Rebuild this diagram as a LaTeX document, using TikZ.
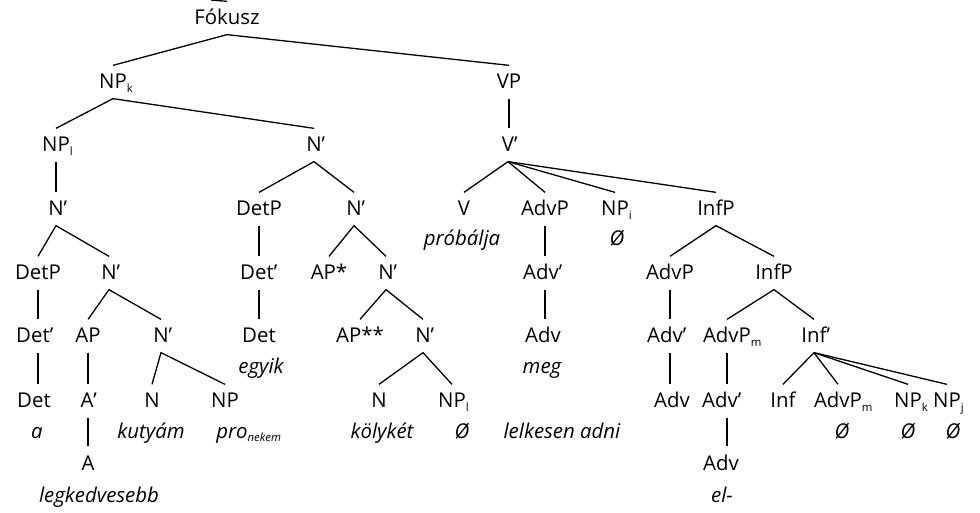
\documentclass[tikz,border=0pt]{standalone}
\usepackage{fontspec}
\setmainfont{Open Sans}
\newcommand\sub[1]{\rlap{\raisebox{-1.6pt}{\fontsize{5.7}{6}\selectfont #1}}}
\newcommand\pr{\rlap{’}}
\begin{document}
\begin{tikzpicture}[x=0.5pt,y=-0.5pt,line width=0.65pt,
  cat/.style={inner xsep=0pt,inner ysep=4.5pt,text height=7pt,text depth=0pt,anchor=base,font=\fontsize{10.2}{12}\selectfont},
  word/.style={cat,font=\fontsize{10.2}{12}\selectfont\itshape}]
\useasboundingbox (0,0) rectangle (980,513);
\node[cat] (fok) at (227,25) {Fókusz};
\node[cat] (npk) at (113,89) {NP\sub{k}};
\node[cat] (vp) at (509,89) {VP};
\node[cat] (npl) at (56,152) {NP\sub{l}};
\node[cat] (nb) at (314,152) {N\pr};
\node[cat] (vb) at (508,152) {V\pr};
\node[cat] (nb1) at (56,216) {N\pr};
\node[cat] (detp2) at (259,216) {DetP};
\node[cat] (nb2) at (354,216) {N\pr};
\node[cat] (v) at (464,216) {V};
\node[cat] (advp1) at (545,216) {AdvP};
\node[cat] (npi) at (615,216) {NP\sub{i}};
\node[cat] (infp1) at (716,216) {InfP};
\node[word] (w-probal) at (462,246) {próbálja};
\node[word] (w-npi) at (617,246) {Ø};
\node[cat] (detp1) at (38,280) {DetP};
\node[cat] (nb3) at (109,280) {N\pr};
\node[cat] (detb2) at (257,280) {Det\pr};
\node[cat] (aps) at (329,280) {AP*};
\node[cat] (nb4) at (386,280) {N\pr};
\node[cat] (advb1) at (541,280) {Adv\pr};
\node[cat] (advp2) at (670,280) {AdvP};
\node[cat] (infp2) at (774,280) {InfP};
\node[cat] (detb1) at (33,343) {Det\pr};
\node[cat] (ap) at (88,343) {AP};
\node[cat] (nb5) at (161,343) {N\pr};
\node[cat] (det2) at (259,343) {Det};
\node[cat] (apss) at (360,343) {AP**};
\node[cat] (nb6) at (423,343) {N\pr};
\node[cat] (adv1) at (543,343) {Adv};
\node[cat] (advb2) at (665,343) {Adv\pr};
\node[cat] (advpm1) at (727,343) {AdvP\sub{m}};
\node[cat] (infb) at (814,343) {Inf\pr};
\node[word] (w-egyik) at (261,373) {egyik};
\node[word] (w-meg) at (542,373) {meg};
\node[cat] (det1) at (34,408) {Det};
\node[cat] (ab) at (87,408) {A\pr};
\node[cat] (n1) at (152,408) {N};
\node[cat] (np1) at (225,408) {NP};
\node[cat] (n2) at (379,408) {N};
\node[cat] (npl2) at (452,408) {NP\sub{l}};
\node[cat] (adv2) at (672,408) {Adv};
\node[cat] (advb3) at (720,408) {Adv\pr};
\node[cat] (inf) at (783,408) {Inf};
\node[cat] (advpm2) at (838,408) {AdvP\sub{m}};
\node[cat] (npk2) at (908,408) {NP\sub{k}};
\node[cat] (npj) at (947,408) {NP\sub{j}};
\node[word] (w-a) at (37,438) {a};
\node[word] (w-kutya) at (151,438) {kutyám};
\node[word] (w-pro) at (232,438) {pro\sub{nekem}};
\node[word] (w-kolyok) at (382,438) {kölykét};
\node[word] (w-npl) at (462,438) {Ø};
\node[word] (w-lelkes) at (562,438) {lelkesen adni};
\node[word] (w-advpm) at (842,438) {Ø};
\node[word] (w-npk) at (908,438) {Ø};
\node[word] (w-npj) at (953,438) {Ø};
\node[cat] (a) at (88,470) {A};
\node[cat] (adv3) at (721,470) {Adv};
\node[word] (w-legk) at (99,502) {legkedvesebb};
\node[word] (w-el) at (722,502) {el-};
\coordinate (up) at (211,0);
\draw (up) -- (fok.north);
\draw (npk.north) -- (fok.south) -- (vp.north);
\draw (npl.north) -- (npk.south) -- (nb.north);
\draw (vp.south) -- (vp.south |- vb.north);
\draw (npl.south) -- (npl.south |- nb1.north);
\draw (detp2.north) -- (nb.south) -- (nb2.north);
\draw (vb.south) -- (v.north);
\draw (vb.south) -- (advp1.north);
\draw (vb.south) -- (npi.north);
\draw (vb.south) -- (infp1.north);
\draw (detp1.north) -- (nb1.south) -- (nb3.north);
\draw (detp2.south) -- (detp2.south |- detb2.north) (detp2.south |- detb2.south) -- (detp2.south |- det2.north);
\draw (aps.north) -- (nb2.south) -- (nb4.north);
\draw (advp1.south) -- (advp1.south |- advb1.north) (advp1.south |- advb1.south) -- (advp1.south |- adv1.north);
\draw (advp2.north) -- (infp1.south) -- (infp2.north);
\draw (detp1.south) -- (detp1.south |- detb1.north) (detp1.south |- detb1.south) -- (detp1.south |- det1.north);
\draw (ap.north) -- (nb3.south) -- (nb5.north);
\draw (ap.south) -- (ap.south |- ab.north) (ap.south |- ab.south) -- (ap.south |- a.north);
\draw (apss.north) -- (nb4.south) -- (nb6.north);
\draw (advp2.south) -- (advp2.south |- advb2.north) (advp2.south |- advb2.south) -- (advp2.south |- adv2.north);
\draw (advpm1.north) -- (infp2.south) -- (infb.north);
\draw (n1.north) -- (nb5.south) -- (np1.north);
\draw (n2.north) -- (nb6.south) -- (npl2.north);
\draw (advpm1.south) -- (advpm1.south |- advb3.north) (advpm1.south |- advb3.south) -- (advpm1.south |- adv3.north);
\draw (infb.south) -- (inf.north);
\draw (infb.south) -- (advpm2.north);
\draw (infb.south) -- (npk2.north);
\draw (infb.south) -- (npj.north);
\end{tikzpicture}
\end{document}
